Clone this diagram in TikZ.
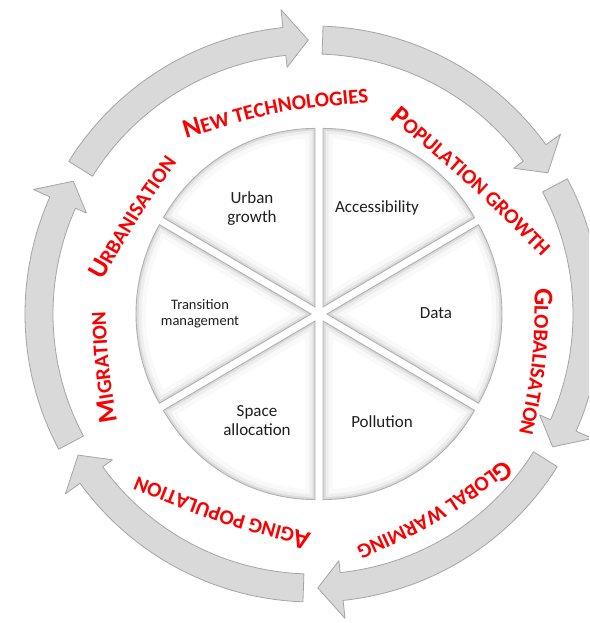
\documentclass[tikz,border=0pt]{standalone}
\usepackage{fontspec}
\setmainfont{Carlito}
\usetikzlibrary{decorations.text}

\definecolor{labelred}{RGB}{250,0,0}
\definecolor{ringfill}{RGB}{217,217,217}
\definecolor{ringedge}{RGB}{165,165,165}
\newcommand\capbig{\bfseries\fontsize{27}{27}\selectfont}
\newcommand\capsmall{\bfseries\fontsize{21}{21}\selectfont}
\newcommand\pierad{175}

\newcommand\pieslice[3]{%
  \pgfmathsetmacro\pieR{\pierad-#2}%
  \pgfmathsetmacro\pieD{asin(#2/\pieR)}%
  \pgfmathsetmacro\pieA{#1-30+\pieD}%
  \pgfmathsetmacro\pieB{#1+30-\pieD}%
  \pgfmathsetmacro\pieO{2*#2}%
  \fill[#3] (#1:\pieO) -- (\pieA:\pieR) arc[start angle=\pieA, end angle=\pieB, radius=\pieR] -- cycle;}

\begin{document}
\begin{tikzpicture}[
  x=1pt, y=1pt,
  ringarrow/.style={fill=ringfill, draw=ringedge, line width=0.8pt, line join=round},
  slicerim/.style={fill=gray!28, draw=gray!62, line width=0.9pt},
  slicemid/.style={fill=gray!13},
  slicesoft/.style={fill=gray!5},
  slicetop/.style={fill=white},
  slicetext/.style={align=center, text=black!88, font=\fontsize{17}{19}\selectfont},
  arclabel/.style={decorate, decoration={text along path, text align=center, text color=labelred, text={#1}}}
]
\fill[white] (0,0) rectangle (589,623);
\clip (0,0) rectangle (589,623);

\begin{scope}[shift={(313,309)}]
  \foreach \t in {148,88,...,-152}{
    \pgfmathsetmacro\tipat{\t-57}
    \pgfmathsetmacro\headat{\t-52}
    \filldraw[ringarrow] (\t:288) arc[start angle=\t, end angle=\headat, radius=288]
      -- (\headat:306) -- (\tipat:274) -- (\headat:248) -- (\headat:260)
      arc[start angle=\headat, end angle=\t, radius=260] -- cycle;
  }
\end{scope}

\begin{scope}[shift={(319,309)}, yscale=1.02]
  \foreach \m in {60,0,-60,-120,-180,-240}{
    \begin{scope}[shift={(\m:8)}]
      \pieslice{\m}{0}{slicerim}
      \pieslice{\m}{2.5}{slicemid}
      \pieslice{\m}{5.5}{slicesoft}
      \pieslice{\m}{10}{slicetop}
    \end{scope}
  }
\end{scope}

\node[slicetext] (urban)      at (252,414) {Urban\\growth};
\node[slicetext] (access)     at (377,415) {Accessibility};
\node[slicetext] (data)       at (436,310) {Data};
\node[slicetext] (pollution)  at (382,201) {Pollution};
\node[slicetext] (space)      at (257,202) {Space\\allocation};
\node[slicetext, font=\fontsize{14.5}{16}\selectfont] (transition) at (200,309) {Transition\\management};

\path[arclabel={|\capbig|N|\capsmall|EW TECHNOLOGIES}] (175,481.5) .. controls (275.4,512) .. (380,521.5);
\path[arclabel={|\capbig|P|\capsmall|OPULATION GROWTH}] (382,511.4) .. controls (469,439) .. (549,358.6);
\path[arclabel={|\capbig|G|\capsmall|LOBALISATION}] (535,344) .. controls (534,261) .. (517,180);
\path[arclabel={|\capbig|G|\capsmall|LOBAL WARMING}] (514,171) .. controls (435,112) .. (345,71);
\path[arclabel={|\capbig|A|\capsmall|GING POPULATION}] (324.6,85.5) .. controls (222.7,112.4) .. (125,152);
\path[arclabel={|\capbig|M|\capsmall|IGRATION}] (118.8,192) .. controls (108,256) .. (105.2,321);
\path[arclabel={|\capbig|U|\capsmall|RBANISATION}] (97.7,334.2) .. controls (136.6,403.1) .. (182.3,467.8);
\end{tikzpicture}
\end{document}
